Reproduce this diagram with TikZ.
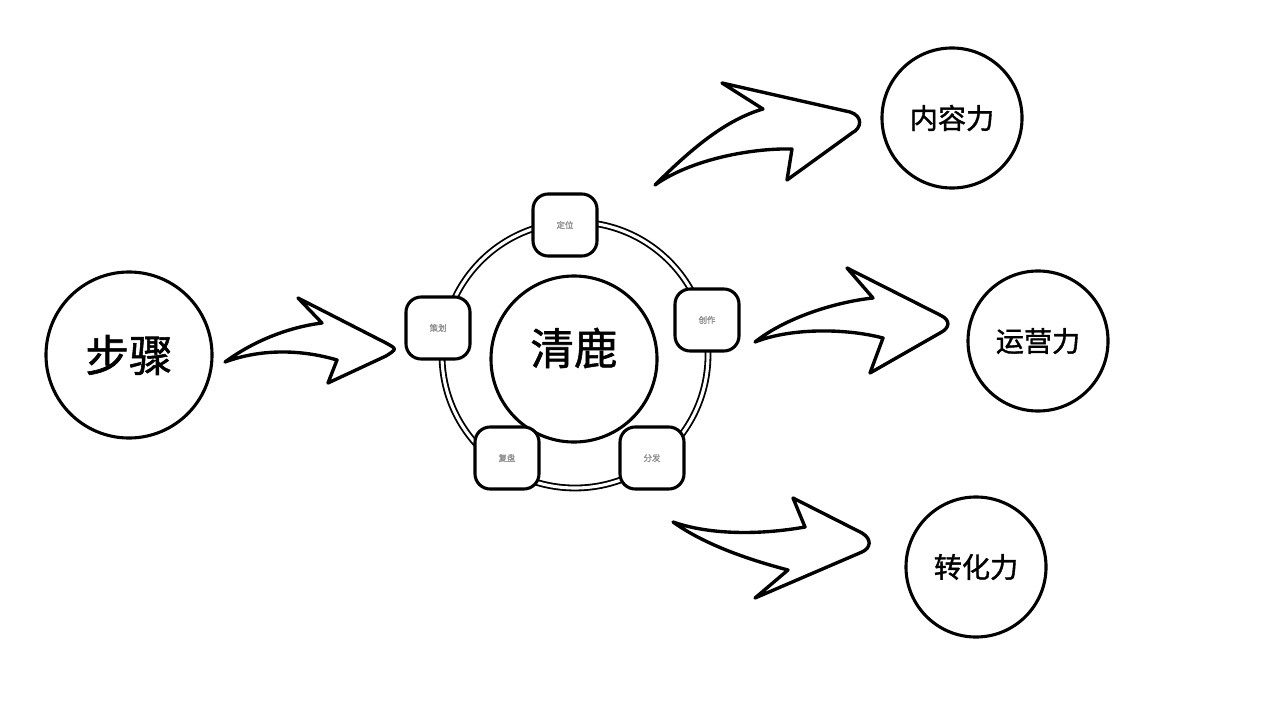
\documentclass[tikz,border=0pt]{standalone}
\usepackage{fontspec}
\newfontfamily\cjk[FakeBold=1.3]{Noto Sans CJK SC}
\usetikzlibrary{calc}

\begin{document}
\begin{tikzpicture}[x=0.025cm,y=-0.025cm,
                    big circle/.style={draw,circle,line width=2.2pt,inner sep=0pt,minimum size=4.15cm,
                                       font=\cjk\fontsize{31}{31}\selectfont},
                    goal/.style={draw,circle,line width=2.2pt,inner sep=0pt,minimum size=3.5cm,
                                 font=\cjk\fontsize{20}{20}\selectfont},
                    stepbox/.style={draw,fill=white,rounded corners=0.38cm,line width=2.2pt,
                                    minimum width=1.6cm,minimum height=1.55cm,
                                    font=\cjk\fontsize{6}{6}\selectfont,text=black!45},
                    ring/.style={double,line width=1.3pt,double distance=2.2pt},
                    bent arrow/.style={draw,fill=white,line width=2.4pt,line join=round}]
    \useasboundingbox (0,0) rectangle (1280,708);

    \node[big circle] (steps) at (129,355) {步骤};
    \node[big circle] (hub) at (574,359) {};
    \node[font=\cjk\fontsize{31}{31}\selectfont] (hub text) at ($ (hub) + (0,-11) $) {清鹿};
    \draw[ring] (575,355) circle (133);

    \node[stepbox] (top step) at (565,225) {定位};
    \node[stepbox] (left step) at (438,328) {策划};
    \node[stepbox] (right step) at (707,320) {创作};
    \node[stepbox] (low left step) at (507,458) {复盘};
    \node[stepbox] (low right step) at (652,458) {分发};

    \node[goal] (content) at (952,118) {内容力};
    \node[goal] (operation) at (1038,341) {运营力};
    \node[goal] (conversion) at (976,567) {转化力};

    \draw[bent arrow] (225,362) .. controls (255,340) and (290,327) .. (322,323) -- (298,298)
        -- (386,343) .. controls (397,349) .. (386,356) -- (328,383) -- (337,360)
        .. controls (300,349) and (260,349) .. (225,362) -- cycle;
    \draw[bent arrow] (655,185) .. controls (690,150) and (725,120) .. (763,109) -- (722,83)
        -- (850,112) .. controls (863,116) and (862,128) .. (852,133) -- (787,180) -- (792,149)
        .. controls (750,148) and (690,160) .. (655,185) -- cycle;
    \draw[bent arrow] (755,342) .. controls (785,318) and (835,302) .. (873,298) -- (847,268)
        -- (940,315) .. controls (951,320) and (950,328) .. (940,333) -- (870,373) -- (883,338)
        .. controls (845,328) and (790,328) .. (755,342) -- cycle;
    \draw[bent arrow] (673,522) .. controls (710,535) and (760,535) .. (805,527) -- (793,498)
        -- (862,533) .. controls (872,539) and (871,548) .. (862,552) -- (755,598) -- (788,570)
        .. controls (750,560) and (705,545) .. (673,522) -- cycle;

\end{tikzpicture}
\end{document}
